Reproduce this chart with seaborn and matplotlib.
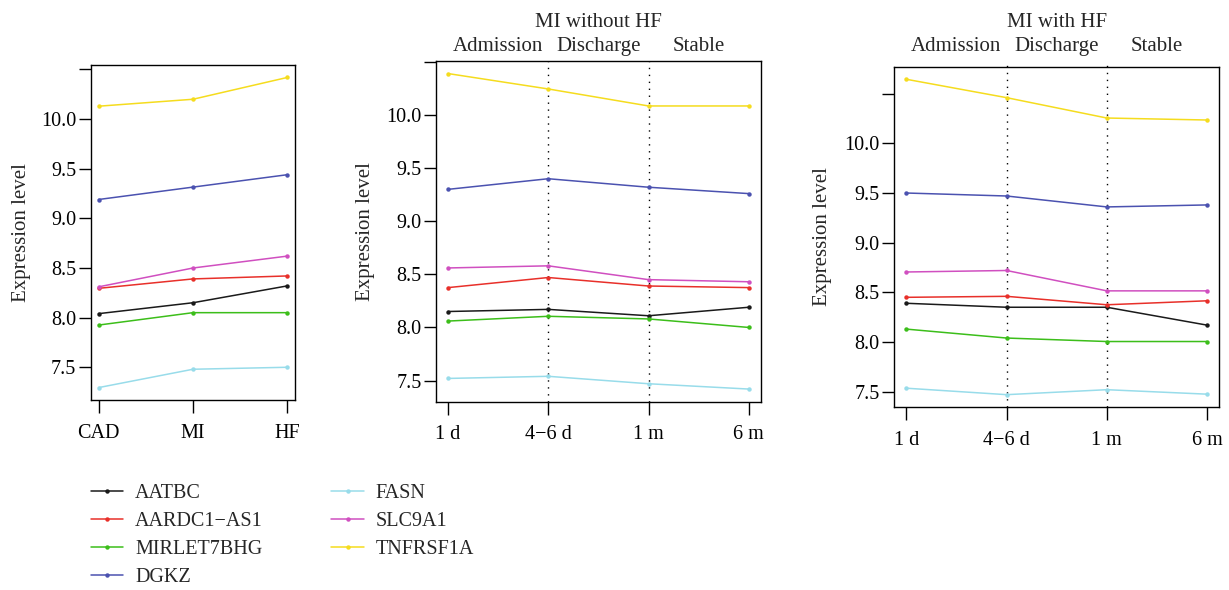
import numpy as np
import pandas as pd
import matplotlib
matplotlib.use("Agg")
import matplotlib.pyplot as plt
import matplotlib.transforms as mtrans
import seaborn as sns

genes = ["AATBC", "AARDC1\u2212AS1", "MIRLET7BHG", "DGKZ", "FASN", "SLC9A1", "TNFRSF1A"]
colors = ["#1a1a1a", "#e8302a", "#3cbe1a", "#4b52b0", "#98dcea", "#d04fc0", "#f5dc1e"]

groups1 = ["CAD", "MI", "HF"]
vals1 = {
    "AATBC": [8.04, 8.15, 8.32],
    "AARDC1\u2212AS1": [8.295, 8.39, 8.42],
    "MIRLET7BHG": [7.925, 8.05, 8.05],
    "DGKZ": [9.19, 9.315, 9.44],
    "FASN": [7.295, 7.48, 7.50],
    "SLC9A1": [8.31, 8.50, 8.62],
    "TNFRSF1A": [10.13, 10.20, 10.42],
}

times = ["1 d", "4\u22126 d", "1 m", "6 m"]
stages = ["Admission", "Discharge", "Stable"]

vals2 = {  # MI without HF
    "AATBC": [8.15, 8.17, 8.11, 8.19],
    "AARDC1\u2212AS1": [8.375, 8.47, 8.39, 8.375],
    "MIRLET7BHG": [8.06, 8.105, 8.08, 8.00],
    "DGKZ": [9.30, 9.40, 9.32, 9.26],
    "FASN": [7.52, 7.54, 7.47, 7.42],
    "SLC9A1": [8.56, 8.58, 8.45, 8.43],
    "TNFRSF1A": [10.39, 10.245, 10.085, 10.085],
}

vals3 = {  # MI with HF
    "AATBC": [8.39, 8.35, 8.35, 8.17],
    "AARDC1\u2212AS1": [8.45, 8.46, 8.375, 8.415],
    "MIRLET7BHG": [8.13, 8.04, 8.005, 8.005],
    "DGKZ": [9.50, 9.47, 9.36, 9.38],
    "FASN": [7.535, 7.47, 7.52, 7.475],
    "SLC9A1": [8.705, 8.72, 8.515, 8.515],
    "TNFRSF1A": [10.645, 10.46, 10.255, 10.235],
}

yticks = [7.5, 8.0, 8.5, 9.0, 9.5, 10.0, 10.5]
yticklabels = ["7.5", "8.0", "8.5", "9.0", "9.5", "10.0", ""]

sns.set_style("ticks")
plt.rcParams["font.family"] = ["Liberation Serif", "DejaVu Serif"]
plt.rcParams["axes.linewidth"] = 1.0
plt.rcParams["xtick.major.width"] = 1.0
plt.rcParams["ytick.major.width"] = 1.0
plt.rcParams["axes.edgecolor"] = "black"

fig = plt.figure(figsize=(12.29, 5.90), dpi=100)
ax1 = fig.add_axes([0.0740, 0.3220, 0.1660, 0.5678])
ax2 = fig.add_axes([0.3548, 0.3192, 0.2642, 0.5775])
ax3 = fig.add_axes([0.7277, 0.3097, 0.2642, 0.5773])


def to_long(vals):
    rows = []
    for g in genes:
        for i, v in enumerate(vals[g]):
            rows.append({"pos": i + 1, "gene": g, "value": v})
    return pd.DataFrame(rows)


def draw(ax, vals, labels):
    df = to_long(vals)
    sns.lineplot(data=df, x="pos", y="value", hue="gene", hue_order=genes,
                 palette=colors, marker="o", markersize=3.2, markeredgewidth=0,
                 linewidth=1.1, ax=ax, legend=True)
    n = len(labels)
    ax.set_xlim(1 - 0.04 * (n - 1), n + 0.04 * (n - 1))
    allv = np.concatenate([vals[g] for g in genes])
    lo, hi = allv.min(), allv.max()
    r = hi - lo
    ax.set_ylim(lo - 0.04 * r, hi + 0.04 * r)
    ax.set_xticks(range(1, n + 1))
    ax.set_xticklabels(labels, fontsize=14.5)
    ax.set_yticks(yticks)
    ax.set_yticklabels(yticklabels, fontsize=14.5)
    ax.tick_params(axis="x", direction="out", length=9, pad=8, colors="black")
    ax.tick_params(axis="y", direction="out", length=9, pad=1.5, colors="black")
    ax.set_xlabel("")
    ax.set_ylabel("Expression level", fontsize=15)
    ax.yaxis.label.set_verticalalignment("center")
    for s in ax.spines.values():
        s.set_visible(True)
        s.set_color("black")
        s.set_linewidth(1.0)
    h, l = ax.get_legend_handles_labels()
    ax.get_legend().remove()
    return h, l


handles, lbls = draw(ax1, vals1, groups1)
draw(ax2, vals2, times)
draw(ax3, vals3, times)

ax1.yaxis.set_label_coords(-0.34, 0.5)
ax2.yaxis.set_label_coords(-0.216, 0.5)
ax3.yaxis.set_label_coords(-0.22, 0.5)

for ax, title, ext in [(ax2, "MI without HF", 1.0), (ax3, "MI with HF", 1.014)]:
    for xv in [2, 3]:
        ax.axvline(xv, ymin=0, ymax=ext, color="black", linestyle=(0, (1, 4)),
                   linewidth=1.0, clip_on=False, zorder=0)
    tr = mtrans.blended_transform_factory(ax.transData, fig.transFigure)
    ax.text(2.5, 0.962, title, transform=tr, ha="center", va="center", fontsize=15)
    for i, st in enumerate(stages):
        ax.text(1.5 + i, 0.922, st, transform=tr, ha="center", va="center", fontsize=15)

fig.legend(handles, lbls, loc="upper left", bbox_to_anchor=(0.074, 0.180),
           ncol=2, frameon=False, fontsize=14.5, handlelength=1.6,
           handletextpad=0.6, columnspacing=3.4, labelspacing=0.45,
           borderpad=0, borderaxespad=0)

fig.savefig("out.png", dpi=100)
